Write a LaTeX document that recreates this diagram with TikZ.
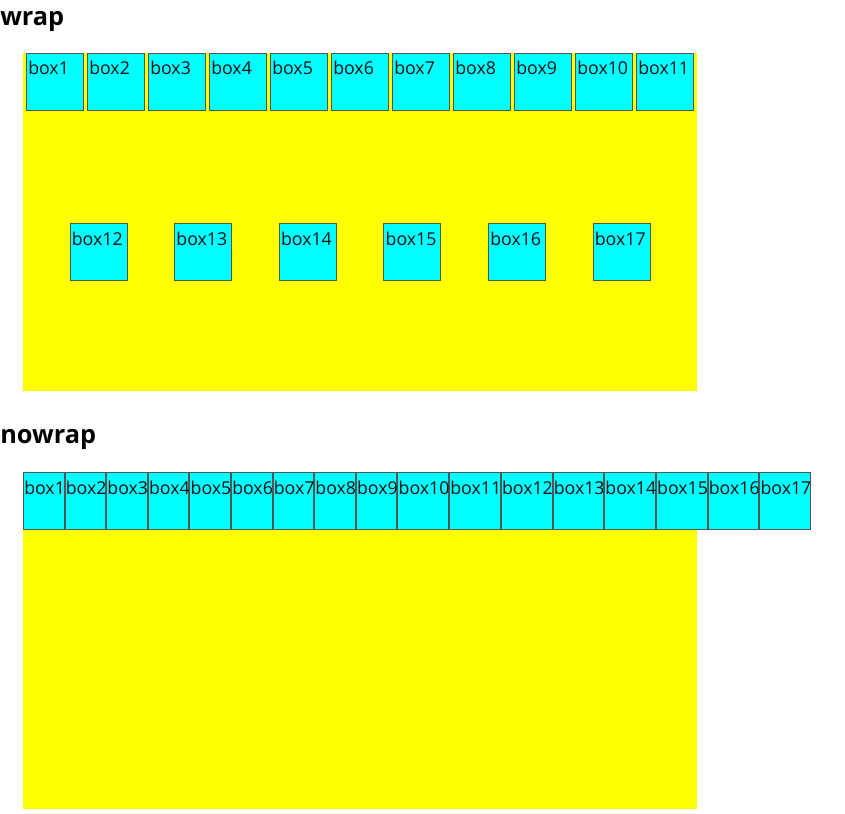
\documentclass[tikz,border=0pt]{standalone}
\usepackage{fontspec}
\setmainfont{Open Sans}
\newlength\pxu
\setlength\pxu{0.75pt}
\definecolor{boxfill}{HTML}{00FFFF}
\definecolor{panelfill}{HTML}{FFFF00}
\definecolor{edge}{HTML}{555555}
\definecolor{ink}{HTML}{111111}
\begin{document}
\begin{tikzpicture}[
        x=0.75pt, y=-0.75pt,
        panel/.style={fill=panelfill, inner sep=0pt, anchor=north west},
        boxcell/.style={draw=edge, line width=1\pxu, fill=boxfill, inner sep=0pt,
                minimum height=57\pxu, anchor=north west},
        boxtext/.style={anchor=base west, inner sep=0pt, xshift=2\pxu, yshift=-22\pxu,
                text=ink, font=\fontsize{13.3}{15}\selectfont},
        heading/.style={anchor=base west, inner sep=0pt,
                font=\fontsize{19}{23}\selectfont\bfseries}
    ]
    \useasboundingbox (0,0) rectangle (845,813);
    % wrap
    \node[heading] (wraptitle) at (0,26) {wrap};
    \node[panel, minimum width=674\pxu, minimum height=338\pxu] (wrappanel) at (23,53) {};
    \foreach \i in {1,...,11} {
        \node[boxcell, minimum width=57\pxu] (w\i) at ({26+(\i-1)*61},53) {};
        \node[boxtext] (wt\i) at (w\i.north west) {box\i};
    }
    \foreach \j [count=\i from 12] in {0,...,5} {
        \node[boxcell, minimum width=57\pxu] (w\i) at ({69.6+\j*104.6},223) {};
        \node[boxtext] (wt\i) at (w\i.north west) {box\i};
    }
    % nowrap
    \node[heading] (nowraptitle) at (0,443) {nowrap};
    \node[panel, minimum width=674\pxu, minimum height=337\pxu] (nowrappanel) at (23,472) {};
    \foreach \i in {1,...,9} {
        \node[boxcell, minimum width=40.6\pxu] (n\i) at ({23+(\i-1)*41.6},472) {};
        \node[boxtext, xshift=-1\pxu] (nt\i) at (n\i.north west) {box\i};
    }
    \foreach \i in {10,...,17} {
        \node[boxcell, minimum width=50.7\pxu] (n\i) at ({397.4+(\i-10)*51.7},472) {};
        \node[boxtext, xshift=-1\pxu] (nt\i) at (n\i.north west) {box\i};
    }
\end{tikzpicture}
\end{document}
